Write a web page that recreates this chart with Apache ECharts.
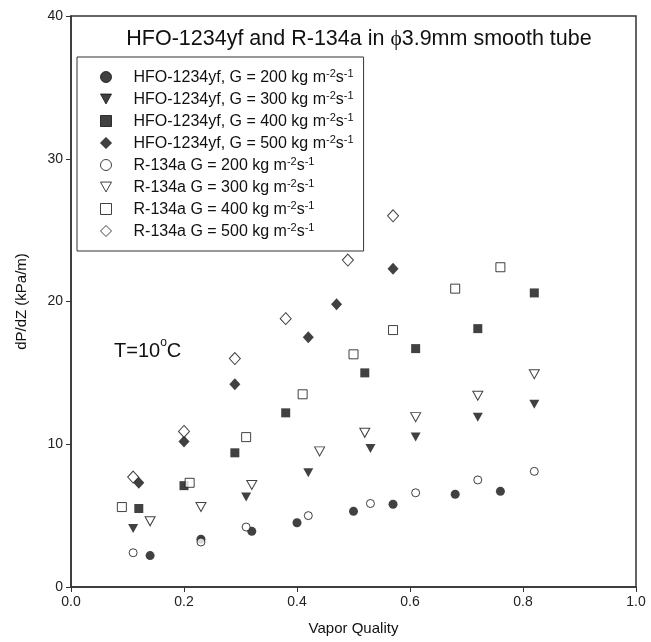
<!DOCTYPE html>
<html>
<head>
<meta charset="utf-8">
<script src="https://cdn.jsdelivr.net/npm/echarts@6/dist/echarts.min.js"></script>
<style>
  html, body { margin: 0; padding: 0; background: #fff; }
  #main { width: 651px; height: 642px; }
</style>
</head>
<body>
<div id="main"></div>
<script>
var chartDom = document.getElementById('main');
var myChart = echarts.init(chartDom);
var option;

// data: [vapor quality, dP/dZ]
let hfo200 = [[0.14, 2.2], [0.23, 3.35], [0.32, 3.9], [0.40, 4.5], [0.50, 5.3], [0.57, 5.8], [0.68, 6.5], [0.76, 6.7]];
let hfo300 = [[0.11, 4.1], [0.31, 6.3], [0.42, 8.0], [0.53, 9.7], [0.61, 10.5], [0.72, 11.9], [0.82, 12.8]];
let hfo400 = [[0.12, 5.5], [0.20, 7.1], [0.29, 9.4], [0.38, 12.2], [0.52, 15.0], [0.61, 16.7], [0.72, 18.1], [0.82, 20.6]];
let hfo500 = [[0.12, 7.3], [0.20, 10.2], [0.29, 14.2], [0.42, 17.5], [0.47, 19.8], [0.57, 22.3]];
let r200 = [[0.11, 2.4], [0.23, 3.15], [0.31, 4.2], [0.42, 5.0], [0.53, 5.85], [0.61, 6.6], [0.72, 7.5], [0.82, 8.1]];
let r300 = [[0.14, 4.6], [0.23, 5.6], [0.32, 7.15], [0.44, 9.5], [0.52, 10.8], [0.61, 11.9], [0.72, 13.4], [0.82, 14.9]];
let r400 = [[0.09, 5.6], [0.21, 7.3], [0.31, 10.5], [0.41, 13.5], [0.50, 16.3], [0.57, 18.0], [0.68, 20.9], [0.76, 22.4]];
let r500 = [[0.11, 7.7], [0.20, 10.9], [0.29, 16.0], [0.38, 18.8], [0.49, 22.9], [0.57, 26.0]];

let seriesNames = [
  'HFO-1234yf, G = 200 kg m-2s-1',
  'HFO-1234yf, G = 300 kg m-2s-1',
  'HFO-1234yf, G = 400 kg m-2s-1',
  'HFO-1234yf, G = 500 kg m-2s-1',
  'R-134a G = 200 kg m-2s-1',
  'R-134a G = 300 kg m-2s-1',
  'R-134a G = 400 kg m-2s-1',
  'R-134a G = 500 kg m-2s-1'
];
let seriesData = [hfo200, hfo300, hfo400, hfo500, r200, r300, r400, r500];

let xTicks = [0, 0.2, 0.4, 0.6, 0.8, 1.0];

const downTri = 'path://M0,0 L10,0 L5,9 Z';
let symbols = ['circle', downTri, 'rect', 'diamond', 'circle', downTri, 'rect', 'diamond'];
let sizes = [[9, 9], [10, 9], [9, 9], [11, 12], [8, 8], [10, 9], [9, 9], [11, 12]];

const ink = '#111';
const font = '"Liberation Sans", Arial, sans-serif';

let series = seriesData.map(function (d, i) {
  let hollow = i >= 4;
  return {
    name: seriesNames[i],
    type: 'scatter',
    data: d,
    symbol: symbols[i],
    symbolSize: sizes[i],
    itemStyle: hollow
      ? { color: '#fff', borderColor: ink, borderWidth: 1 }
      : { color: ink, borderColor: ink, borderWidth: 0 },
    emphasis: { disabled: true }
  };
});

option = {
  animation: false,
  backgroundColor: '#fff',
  title: {
    text: '{a|HFO-1234yf and R-134a in }{phi|\u03d5}{a|3.9mm smooth tube}',
    left: 354,
    textAlign: 'center',
    top: 23,
    textStyle: {
      fontWeight: 'normal',
      rich: {
        a: { fontFamily: font, fontSize: 21.5, fontWeight: 'normal', color: ink },
        phi: { fontFamily: '"Liberation Serif", "DejaVu Serif", serif', fontSize: 21.5, fontWeight: 'normal', color: ink }
      }
    }
  },
  legend: {
    orient: 'vertical',
    left: 77,
    top: 57,
    padding: [11, 10, 11, 23],
    itemWidth: 11,
    itemHeight: 11,
    itemGap: 4,
    borderColor: '#333',
    borderWidth: 1,
    selectedMode: false,
    itemStyle: { borderWidth: 1 },
    data: seriesNames,
    formatter: function (name) {
      return '{t|' + name.replace(' m-2s-1', ' m}{sup|-2}{t|s}{sup|-1') + '}';
    },
    textStyle: {
      padding: [0, 0, 0, 17],
      rich: {
        t: { fontFamily: font, fontSize: 16, color: ink, lineHeight: 18, verticalAlign: 'bottom' },
        sup: { fontFamily: font, fontSize: 11, color: ink, lineHeight: 10, verticalAlign: 'top' }
      }
    }
  },
  graphic: [{
    type: 'text',
    left: 114,
    top: 337,
    style: {
      text: '{a|T=10}{s|o}{a|C}',
      rich: {
        a: { fontFamily: font, fontSize: 20, fill: ink, lineHeight: 24, verticalAlign: 'bottom' },
        s: { fontFamily: font, fontSize: 12, fill: ink, lineHeight: 12, verticalAlign: 'top' }
      }
    }
  }],
  grid: {
    left: 71,
    right: 15,
    top: 16,
    bottom: 55,
    show: true,
    borderColor: '#333',
    borderWidth: 1.5
  },
  xAxis: {
    type: 'value',
    min: 0,
    max: 1,
    interval: 0.2,
    name: 'Vapor Quality',
    nameLocation: 'middle',
    nameGap: 34,
    nameTextStyle: { fontFamily: font, fontSize: 15, color: ink },
    axisLine: { show: true, onZero: false, lineStyle: { color: '#333', width: 1.5 } },
    axisTick: { show: true, length: 5, lineStyle: { color: '#333' } },
    axisLabel: {
      fontFamily: font, fontSize: 14, color: '#222', margin: 8,
      formatter: function (v) { return xTicks.indexOf(Math.round(v * 10) / 10) >= 0 ? v.toFixed(1) : ''; }
    },
    splitLine: { show: false }
  },
  yAxis: {
    type: 'value',
    min: 0,
    max: 40,
    interval: 10,
    name: 'dP/dZ (kPa/m)',
    nameLocation: 'middle',
    nameGap: 42,
    nameTextStyle: { fontFamily: font, fontSize: 15, color: ink },
    axisLine: { show: true, onZero: false, lineStyle: { color: '#333', width: 1.5 } },
    axisTick: { show: true, length: 5, lineStyle: { color: '#333' } },
    axisLabel: { fontFamily: font, fontSize: 14, color: '#222', margin: 8 },
    splitLine: { show: false }
  },
  series: series
};

option && myChart.setOption(option);
</script>
</body>
</html>
